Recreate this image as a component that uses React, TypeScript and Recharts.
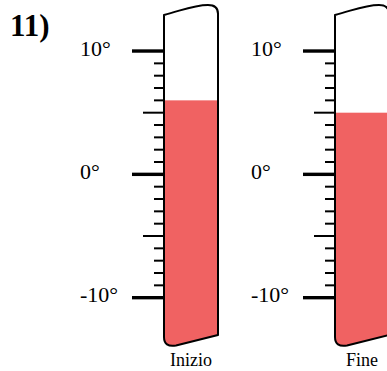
import React from 'react';
import { BarChart, Bar, XAxis, YAxis } from 'recharts';

const CATEGORIES = ['Inizio', 'Fine'];
const TEMPS = [6, 5];
const TICKS = [-10, -9, -8, -7, -6, -5, -4, -3, -2, -1, 0, 1, 2, 3, 4, 5, 6, 7, 8, 9, 10];
const LABELLED = [-10, 0, 10];
const DOMAIN: [number, number] = [-14, 14];

const FILL = '#f06262';
const SERIF = '"Liberation Serif", "Times New Roman", serif';

const ScaleTick = (props: any) => {
  const { x, y, payload } = props;
  const v = payload.value;
  const major = v % 10 === 0;
  const len = major ? 32 : v % 5 === 0 ? 21 : 10;
  return (
    <g>
      <line x1={x - len} x2={x} y1={y} y2={y} stroke="#000" strokeWidth={major ? 3.4 : 2} />
      {LABELLED.includes(v) && (
        <text x={x - 84} y={y + 4.5} fontSize={22} fontFamily={SERIF} fill="#000" textAnchor="start">
          {`${v}°`}
        </text>
      )}
    </g>
  );
};

const NameTick = (props: any) => (
  <text x={props.x} y={props.y + 19} fontSize={18} fontFamily={SERIF} fill="#000" textAnchor="middle">
    {props.payload.value}
  </text>
);

// tube outline + liquid, clipped to the slanted glass shape
const Tube = (props: any) => {
  const { x, y, width, background, name } = props;
  const bg = background ?? { y: 1.7, height: 345.3 };
  const x0 = x;
  const x1 = x + width;
  const t = bg.y;
  const b = bg.y + bg.height;
  const d =
    `M${x0},${t + 13.3} C${x0 + 20},${t + 8} ${x0 + 30},${t + 3.3} ${x1 - 10},${t + 3.3} ` +
    `Q${x1},${t + 3.3} ${x1},${t + 12} L${x1},${b - 12} L${x0 + 12},${b - 1.5} ` +
    `Q${x0},${b + 0.5} ${x0},${b - 10} Z`;
  const id = `tube-${name}`;
  return (
    <g>
      <defs>
        <clipPath id={id}>
          <path d={d} />
        </clipPath>
      </defs>
      <rect x={x0} y={y} width={width} height={b - y + 4} fill={FILL} clipPath={`url(#${id})`} />
      <path d={d} fill="none" stroke="#000" strokeWidth={2} strokeLinejoin="round" />
    </g>
  );
};

const Thermometer = ({ index }: { index: number }) => {
  const data = [{ name: CATEGORIES[index], temp: TEMPS[index] }];
  return (
    <BarChart
      width={222}
      height={371}
      data={data}
      margin={{ top: 1.7, right: 4, bottom: 0, left: 0 }}
      barCategoryGap={0}
    >
      <XAxis
        dataKey="name"
        height={24}
        axisLine={false}
        tickLine={false}
        tickSize={0}
        tickMargin={0}
        tick={NameTick}
      />
      <YAxis
        type="number"
        domain={DOMAIN}
        ticks={TICKS}
        interval={0}
        width={164}
        axisLine={false}
        tickLine={false}
        tickSize={0}
        tickMargin={0}
        tick={ScaleTick}
      />
      <Bar dataKey="temp" shape={Tube} isAnimationActive={false} />
    </BarChart>
  );
};

export default function App() {
  return (
    <div style={{ position: 'fixed', left: 0, top: 0, width: 387, height: 371, overflow: 'hidden', background: '#fff' }}>
      <svg width={80} height={50} style={{ position: 'absolute', left: 0, top: 0 }}>
        <text x={10} y={35.5} fontSize={31} fontWeight="bold" fontFamily={SERIF} fill="#000">
          11)
        </text>
      </svg>
      <div style={{ position: 'absolute', left: 0, top: 0 }}>
        <Thermometer index={0} />
      </div>
      <div style={{ position: 'absolute', left: 171, top: 0 }}>
        <Thermometer index={1} />
      </div>
    </div>
  );
}
